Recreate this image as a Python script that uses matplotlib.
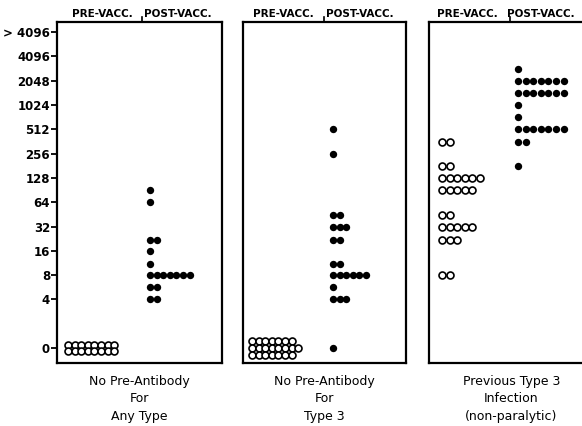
import numpy as np
import matplotlib
matplotlib.use("Agg")
import matplotlib.pyplot as plt
from matplotlib.lines import Line2D

# ---------------- data ----------------
tick_values = [0, 4, 8, 16, 32, 64, 128, 256, 512, 1024, 2048, 4096, 8192]
tick_labels = ["0", "4", "8", "16", "32", "64", "128", "256", "512",
               "1024", "2048", "4096", "> 4096"]

panel_titles = ["No Pre-Antibody\nFor\nAny Type",
                "No Pre-Antibody\nFor\nType 3",
                "Previous Type 3\nInfection\n(non-paralytic)"]

# (titer, number of subjects)
p1_pre_titers = [0]
p1_pre_counts = [16]
p1_post_titers = [90, 64, 22, 16, 11, 8, 5.7, 4]
p1_post_counts = [1, 1, 2, 1, 1, 7, 2, 2]

p2_pre_titers = [0]
p2_pre_counts = [22]
p2_post_titers = [512, 256, 45, 32, 22, 11, 8, 5.7, 4, 0]
p2_post_counts = [1, 1, 2, 3, 2, 2, 6, 1, 3, 1]

p3_pre_titers = [360, 180, 128, 90, 45, 32, 22, 8]
p3_pre_counts = [2, 2, 6, 5, 2, 5, 3, 2]
p3_post_titers = [2900, 2048, 1450, 1024, 724, 512, 360, 180]
p3_post_counts = [1, 7, 7, 1, 1, 7, 2, 1]

# how the zero-titer open circles are stacked (per panel)
zero_rows = [[8, 8], [7, 8, 7], []]

panels = [
    (p1_pre_titers, p1_pre_counts, p1_post_titers, p1_post_counts),
    (p2_pre_titers, p2_pre_counts, p2_post_titers, p2_post_counts),
    (p3_pre_titers, p3_pre_counts, p3_post_titers, p3_post_counts),
]

# ---------------- layout / style ----------------
W, H = 582, 426
fig = plt.figure(figsize=(W / 100, H / 100), dpi=100)
plt.rcParams['font.family'] = ['DejaVu Sans']

axes_px = [(57, 222), (243, 406), (429, 594)]   # left/right pixel edges
top_px, bot_px = 22, 363
pre_start = [11, 9, 13]     # px from left edge
post_start = [93, 90, 89]
spacing = [6.6, 6.6, 7.6]
label_pos = [(45, 85, 121), (40, 81, 117), (38, 81, 112)]


def ypos(v):
    return 0.0 if v == 0 else np.log2(v)


for i, (pre_t, pre_c, post_t, post_c) in enumerate(panels):
    l, r = axes_px[i]
    ax = fig.add_axes([l / W, 1 - bot_px / H, (r - l) / W, (bot_px - top_px) / H])
    ax.set_xlim(0, r - l)
    ax.set_ylim(-0.62, 13.42)
    for s in ax.spines.values():
        s.set_linewidth(1.6)
        s.set_color("black")
    ax.set_xticks([])
    if i == 0:
        ax.set_yticks([ypos(v) for v in tick_values])
        ax.set_yticklabels(tick_labels, fontsize=8.5, fontweight="bold")
        ax.tick_params(axis="y", length=4, width=1.3, pad=1)
    else:
        ax.set_yticks([])

    sp = spacing[i]

    def draw_group(titers, counts, x0, filled):
        for t, c in zip(titers, counts):
            if t == 0 and not filled and zero_rows[i]:
                rows = zero_rows[i]
                nr = len(rows)
                for k, n in enumerate(rows):
                    yy = (nr - 1) / 2 * 0.28 - k * 0.28
                    xs = x0 + np.arange(n) * sp
                    ax.plot(xs, np.full(n, yy), "o", ms=5.0, mfc="white",
                            mec="black", mew=1.2, clip_on=False)
                continue
            xs = x0 + np.arange(c) * sp
            ys = np.full(c, ypos(t))
            if filled:
                ax.plot(xs, ys, "o", ms=5.3, mfc="black", mec="black", mew=0,
                        clip_on=False)
            else:
                ax.plot(xs, ys, "o", ms=5.0, mfc="white", mec="black", mew=1.2,
                        clip_on=False)

    draw_group(pre_t, pre_c, pre_start[i], False)
    draw_group(post_t, post_c, post_start[i], True)

    # header labels
    lp, tk, po = label_pos[i]
    xt = ax.get_xaxis_transform()
    ax.text(lp, 1.01, "PRE-VACC.", transform=xt,
            ha="center", va="bottom", fontsize=7.5, fontweight="bold")
    ax.text(po, 1.01, "POST-VACC.", transform=xt,
            ha="center", va="bottom", fontsize=7.5, fontweight="bold")
    ax.add_line(Line2D([tk, tk], [1.0, 1.014], transform=xt,
                       color="black", lw=1.2, clip_on=False))

    # bottom caption
    ax.text(0.5, -0.035, panel_titles[i], transform=ax.transAxes,
            ha="center", va="top", fontsize=9, linespacing=1.45)

fig.savefig("out.png", dpi=100)
